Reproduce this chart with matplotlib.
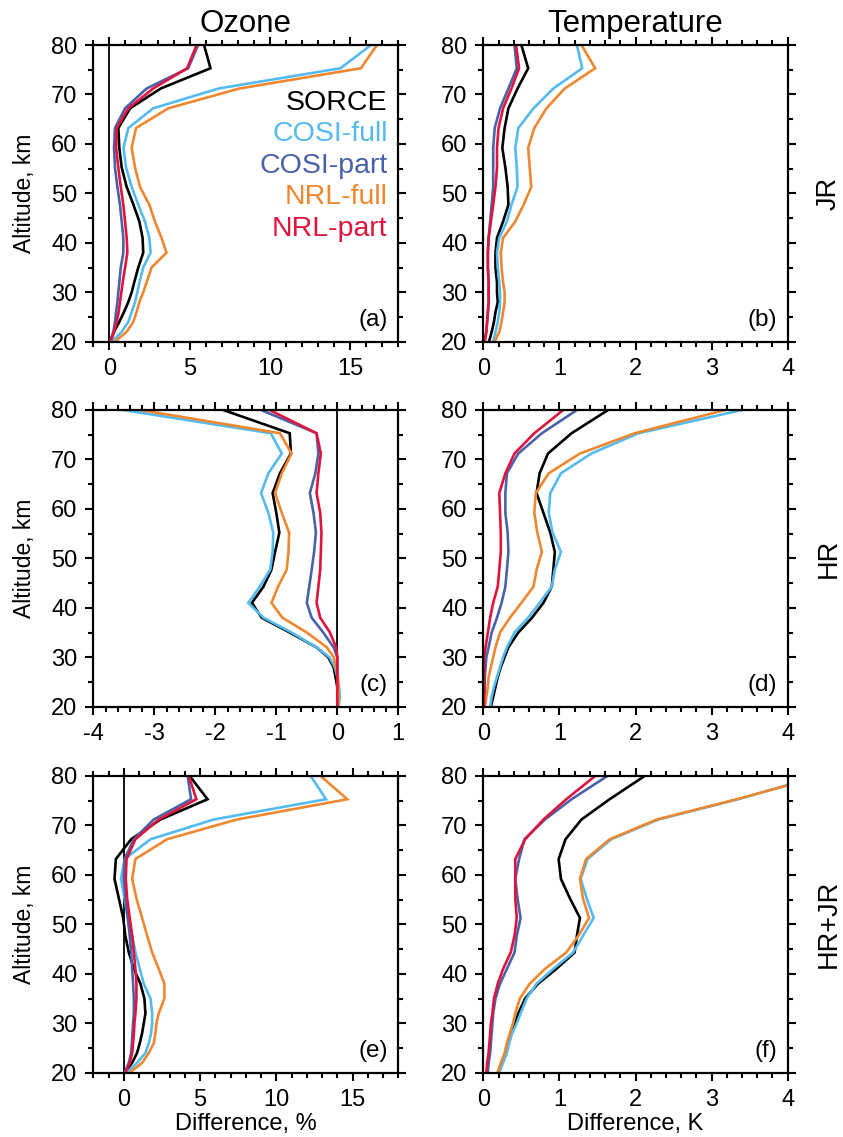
import matplotlib

matplotlib.use("Agg")
import matplotlib.pyplot as plt  # noqa: E402
from matplotlib.ticker import MultipleLocator  # noqa: E402

plt.rcParams["font.family"] = ["Liberation Sans", "DejaVu Sans"]
plt.rcParams["axes.unicode_minus"] = False  # the original uses plain hyphens

# model altitude levels, km (top -> bottom)
alt = [80, 75.3, 71.2, 67.2, 63.2, 59.2, 55.2, 51.3, 47.7, 44.3,
       41, 38, 35, 32, 30, 28, 26, 24, 22, 20]

names = ["SORCE", "COSI-full", "COSI-part", "NRL-full", "NRL-part"]
colors = ["#000000", "#55BBEE", "#4A62AA", "#EE8830", "#E0143C"]

# (a) ozone, JR
oz_jr = {
    "SORCE": [5.9, 6.3, 3.2, 1.29, 0.56, 0.62, 0.77, 1.08, 1.5, 1.87,
              2.07, 2.11, 1.8, 1.55, 1.39, 1.18, 0.91, 0.62, 0.29, 0.04],
    "COSI-full": [16.3, 14.4, 6.8, 2.73, 1.18, 0.88, 1.04, 1.39, 1.8, 2.22,
                  2.49, 2.57, 2.11, 1.87, 1.74, 1.6, 1.39, 1.18, 0.77, 0.15],
    "COSI-part": [5.53, 4.91, 2.32, 0.98, 0.35, 0.29, 0.35, 0.5, 0.66, 0.77,
                  0.87, 0.87, 0.71, 0.62, 0.56, 0.5, 0.42, 0.35, 0.25, 0.04],
    "NRL-full": [16.67, 15.67, 8.1, 3.67, 1.66, 1.39, 1.6, 1.91, 2.49, 2.84,
                 3.25, 3.56, 2.63, 2.32, 2.11, 1.87, 1.7, 1.49, 1.08, 0.35],
    "NRL-part": [5.43, 4.85, 2.73, 1.18, 0.46, 0.42, 0.56, 0.71, 0.87, 0.98,
                 1.08, 1.12, 0.98, 0.83, 0.75, 0.66, 0.58, 0.46, 0.29, 0.08],
}
# (b) temperature, JR
t_jr = {
    "SORCE": [0.50, 0.59, 0.45, 0.33, 0.28, 0.25, 0.29, 0.32, 0.33, 0.26,
              0.18, 0.16, 0.16, 0.18, 0.18, 0.19, 0.16, 0.14, 0.11, 0.075],
    "COSI-full": [1.23, 1.30, 0.92, 0.66, 0.46, 0.42, 0.44, 0.45, 0.37, 0.31,
                  0.21, 0.18, 0.19, 0.21, 0.22, 0.22, 0.21, 0.19, 0.16, 0.13],
    "COSI-part": [0.41, 0.44, 0.33, 0.22, 0.15, 0.13, 0.13, 0.13, 0.11, 0.09,
                  0.07, 0.06, 0.06, 0.07, 0.07, 0.07, 0.06, 0.05, 0.04, 0.01],
    "NRL-full": [1.29, 1.47, 1.07, 0.83, 0.67, 0.59, 0.61, 0.63, 0.53, 0.42,
                 0.26, 0.23, 0.24, 0.26, 0.28, 0.28, 0.26, 0.24, 0.21, 0.15],
    "NRL-part": [0.43, 0.47, 0.37, 0.26, 0.20, 0.18, 0.18, 0.16, 0.13, 0.10,
                 0.07, 0.06, 0.06, 0.07, 0.07, 0.07, 0.06, 0.05, 0.04, 0.02],
}
# (c) ozone, HR
oz_hr = {
    "SORCE": [-1.87, -0.78, -0.76, -0.94, -1.06, -1.0, -0.95, -1.02, -1.08, -1.21,
              -1.4, -1.24, -0.78, -0.34, -0.15, -0.06, -0.03, 0.0, 0.0, 0.0],
    "COSI-full": [-3.51, -1.09, -0.91, -1.13, -1.25, -1.13, -1.05, -1.06, -1.10, -1.27,
                  -1.46, -1.21, -0.75, -0.34, -0.13, -0.04, 0.0, 0.03, 0.04, 0.02],
    "COSI-part": [-1.25, -0.34, -0.31, -0.36, -0.45, -0.39, -0.35, -0.38, -0.42, -0.46,
                  -0.5, -0.42, -0.23, -0.06, 0.0, 0.0, 0.0, 0.0, 0.0, 0.0],
    "NRL-full": [-3.23, -0.94, -0.75, -0.91, -1.02, -0.91, -0.79, -0.8, -0.83, -0.97,
                 -1.08, -0.9, -0.5, -0.17, -0.06, -0.02, 0.01, 0.02, 0.02, 0.01],
    "NRL-part": [-1.11, -0.34, -0.27, -0.31, -0.34, -0.28, -0.26, -0.27, -0.28, -0.31,
                 -0.34, -0.28, -0.12, -0.02, 0.0, 0.0, 0.0, 0.0, 0.0, 0.0],
}
# (d) temperature, HR
t_hr = {
    "SORCE": [1.64, 1.16, 0.85, 0.74, 0.70, 0.79, 0.88, 0.94, 0.92, 0.90,
              0.79, 0.64, 0.46, 0.33, 0.28, 0.23, 0.19, 0.16, 0.13, 0.10],
    "COSI-full": [3.40, 2.04, 1.42, 1.02, 0.88, 0.86, 0.91, 1.02, 0.94, 0.90,
                  0.74, 0.59, 0.41, 0.31, 0.26, 0.22, 0.18, 0.14, 0.11, 0.09],
    "COSI-part": [1.23, 0.77, 0.46, 0.31, 0.29, 0.29, 0.32, 0.33, 0.31, 0.29,
                  0.24, 0.18, 0.11, 0.07, 0.04, 0.03, 0.02, 0.02, 0.02, 0.02],
    "NRL-full": [3.18, 1.99, 1.27, 0.86, 0.69, 0.67, 0.71, 0.77, 0.70, 0.66,
                 0.50, 0.35, 0.22, 0.16, 0.13, 0.10, 0.07, 0.06, 0.04, 0.02],
    "NRL-part": [1.05, 0.67, 0.41, 0.29, 0.21, 0.22, 0.23, 0.23, 0.21, 0.19,
                 0.13, 0.09, 0.06, 0.03, 0.01, 0.01, 0.01, 0.01, 0.01, 0.01],
}
# (e) ozone, HR+JR
oz_all = {
    "SORCE": [4.32, 5.49, 2.4, 0.48, -0.52, -0.61, -0.32, -0.04, 0.1, 0.33,
              0.66, 1.09, 1.35, 1.42, 1.31, 1.2, 1.05, 0.87, 0.55, 0.05],
    "COSI-full": [12.26, 13.26, 5.89, 1.75, 0.05, -0.18, 0.05, 0.26, 0.55, 0.77,
                  1.05, 1.31, 1.75, 1.86, 1.86, 1.79, 1.64, 1.42, 0.87, 0.22],
    "COSI-part": [4.19, 4.41, 1.96, 0.66, 0.05, 0.0, 0.11, 0.26, 0.39, 0.48,
                  0.55, 0.61, 0.66, 0.66, 0.61, 0.57, 0.53, 0.48, 0.33, 0.05],
    "NRL-full": [12.91, 14.65, 7.41, 2.83, 0.76, 0.55, 0.83, 1.2, 1.53, 1.86,
                 2.29, 2.66, 2.66, 2.29, 2.14, 2.07, 1.97, 1.64, 1.2, 0.39],
    "NRL-part": [4.26, 4.76, 2.29, 0.76, 0.18, 0.13, 0.22, 0.39, 0.55, 0.66,
                 0.76, 0.83, 0.83, 0.76, 0.7, 0.66, 0.61, 0.55, 0.39, 0.11],
}
# (f) temperature, HR+JR
t_all = {
    "SORCE": [2.12, 1.66, 1.29, 1.08, 0.99, 1.02, 1.14, 1.27, 1.23, 1.20,
              0.96, 0.72, 0.55, 0.46, 0.42, 0.37, 0.33, 0.29, 0.24, 0.19],
    "COSI-full": [4.41, 3.35, 2.30, 1.68, 1.37, 1.28, 1.36, 1.45, 1.31, 1.18,
                  0.92, 0.70, 0.57, 0.49, 0.44, 0.38, 0.34, 0.31, 0.26, 0.21],
    "COSI-part": [1.63, 1.16, 0.81, 0.54, 0.47, 0.42, 0.45, 0.49, 0.44, 0.41,
                  0.31, 0.22, 0.16, 0.13, 0.12, 0.11, 0.10, 0.09, 0.07, 0.06],
    "NRL-full": [4.45, 3.33, 2.28, 1.66, 1.35, 1.27, 1.31, 1.39, 1.25, 1.09,
                 0.81, 0.61, 0.48, 0.42, 0.39, 0.35, 0.31, 0.28, 0.23, 0.19],
    "NRL-part": [1.47, 1.09, 0.79, 0.55, 0.42, 0.42, 0.42, 0.44, 0.41, 0.36,
                 0.26, 0.19, 0.14, 0.12, 0.10, 0.09, 0.08, 0.07, 0.05, 0.04],
}

panels = [
    # data, xlim, x major, x minor, zero line, tag
    (oz_jr, (-1, 18), 5, 1, True, "(a)"),
    (t_jr, (0, 4), 1, 0.2, False, "(b)"),
    (oz_hr, (-4, 1), 1, 0.2, True, "(c)"),
    (t_hr, (0, 4), 1, 0.2, False, "(d)"),
    (oz_all, (-2, 18), 5, 1, True, "(e)"),
    (t_all, (0, 4), 1, 0.2, False, "(f)"),
]
row_labels = ["JR", "HR", "HR+JR"]

W, H = 843, 1137
fig = plt.figure(figsize=(W / 100, H / 100), dpi=100)

col_x = [93.3, 483.3]
col_w = [305.0, 304.4]
row_top = [45.0, 410.0, 776.0]
row_h = 296.7

for i, (data, xlim, xmaj, xmin, zero, tag) in enumerate(panels):
    r, c = divmod(i, 2)
    ax = fig.add_axes([col_x[c] / W, 1 - (row_top[r] + row_h) / H,
                       col_w[c] / W, row_h / H])
    if zero:
        ax.axvline(0, color="black", lw=1.3, zorder=1)
    for name, col in zip(names, colors):
        ax.plot(data[name], alt, color=col, lw=1.9, zorder=2,
                solid_joinstyle="miter")
    ax.set_xlim(*xlim)
    ax.set_ylim(20, 80)
    ax.xaxis.set_major_locator(MultipleLocator(xmaj))
    ax.xaxis.set_minor_locator(MultipleLocator(xmin))
    ax.yaxis.set_major_locator(MultipleLocator(10))
    ax.yaxis.set_minor_locator(MultipleLocator(5))
    ax.tick_params(which="both", direction="out", top=True, right=True,
                   width=1.5, labelsize=17, pad=6)
    ax.tick_params(which="major", length=5.5)
    ax.tick_params(which="minor", length=3.5)
    for s in ax.spines.values():
        s.set_linewidth(1.6)
    ax.text(0.965, 0.035, tag, transform=ax.transAxes, ha="right",
            va="bottom", fontsize=17.5)
    if c == 0:
        ax.set_ylabel("Altitude, km", fontsize=16.5, labelpad=11)
    else:
        ax.text(1.135, 0.5, row_labels[r], transform=ax.transAxes,
                rotation=90, ha="center", va="center", fontsize=19.5)
    if r == 0:
        ax.set_title(["Ozone", "Temperature"][c], fontsize=22.5, pad=9.5)
    if r == 2:
        ax.set_xlabel("Difference, %" if c == 0 else "Difference, K",
                      fontsize=17, labelpad=2)
    if i == 0:
        for k, (name, col) in enumerate(zip(names, colors)):
            ax.text(0.965, 0.805 - k * 0.106, name, color=col,
                    transform=ax.transAxes, ha="right", va="center",
                    fontsize=20.5)

fig.savefig("out.png", dpi=100)
